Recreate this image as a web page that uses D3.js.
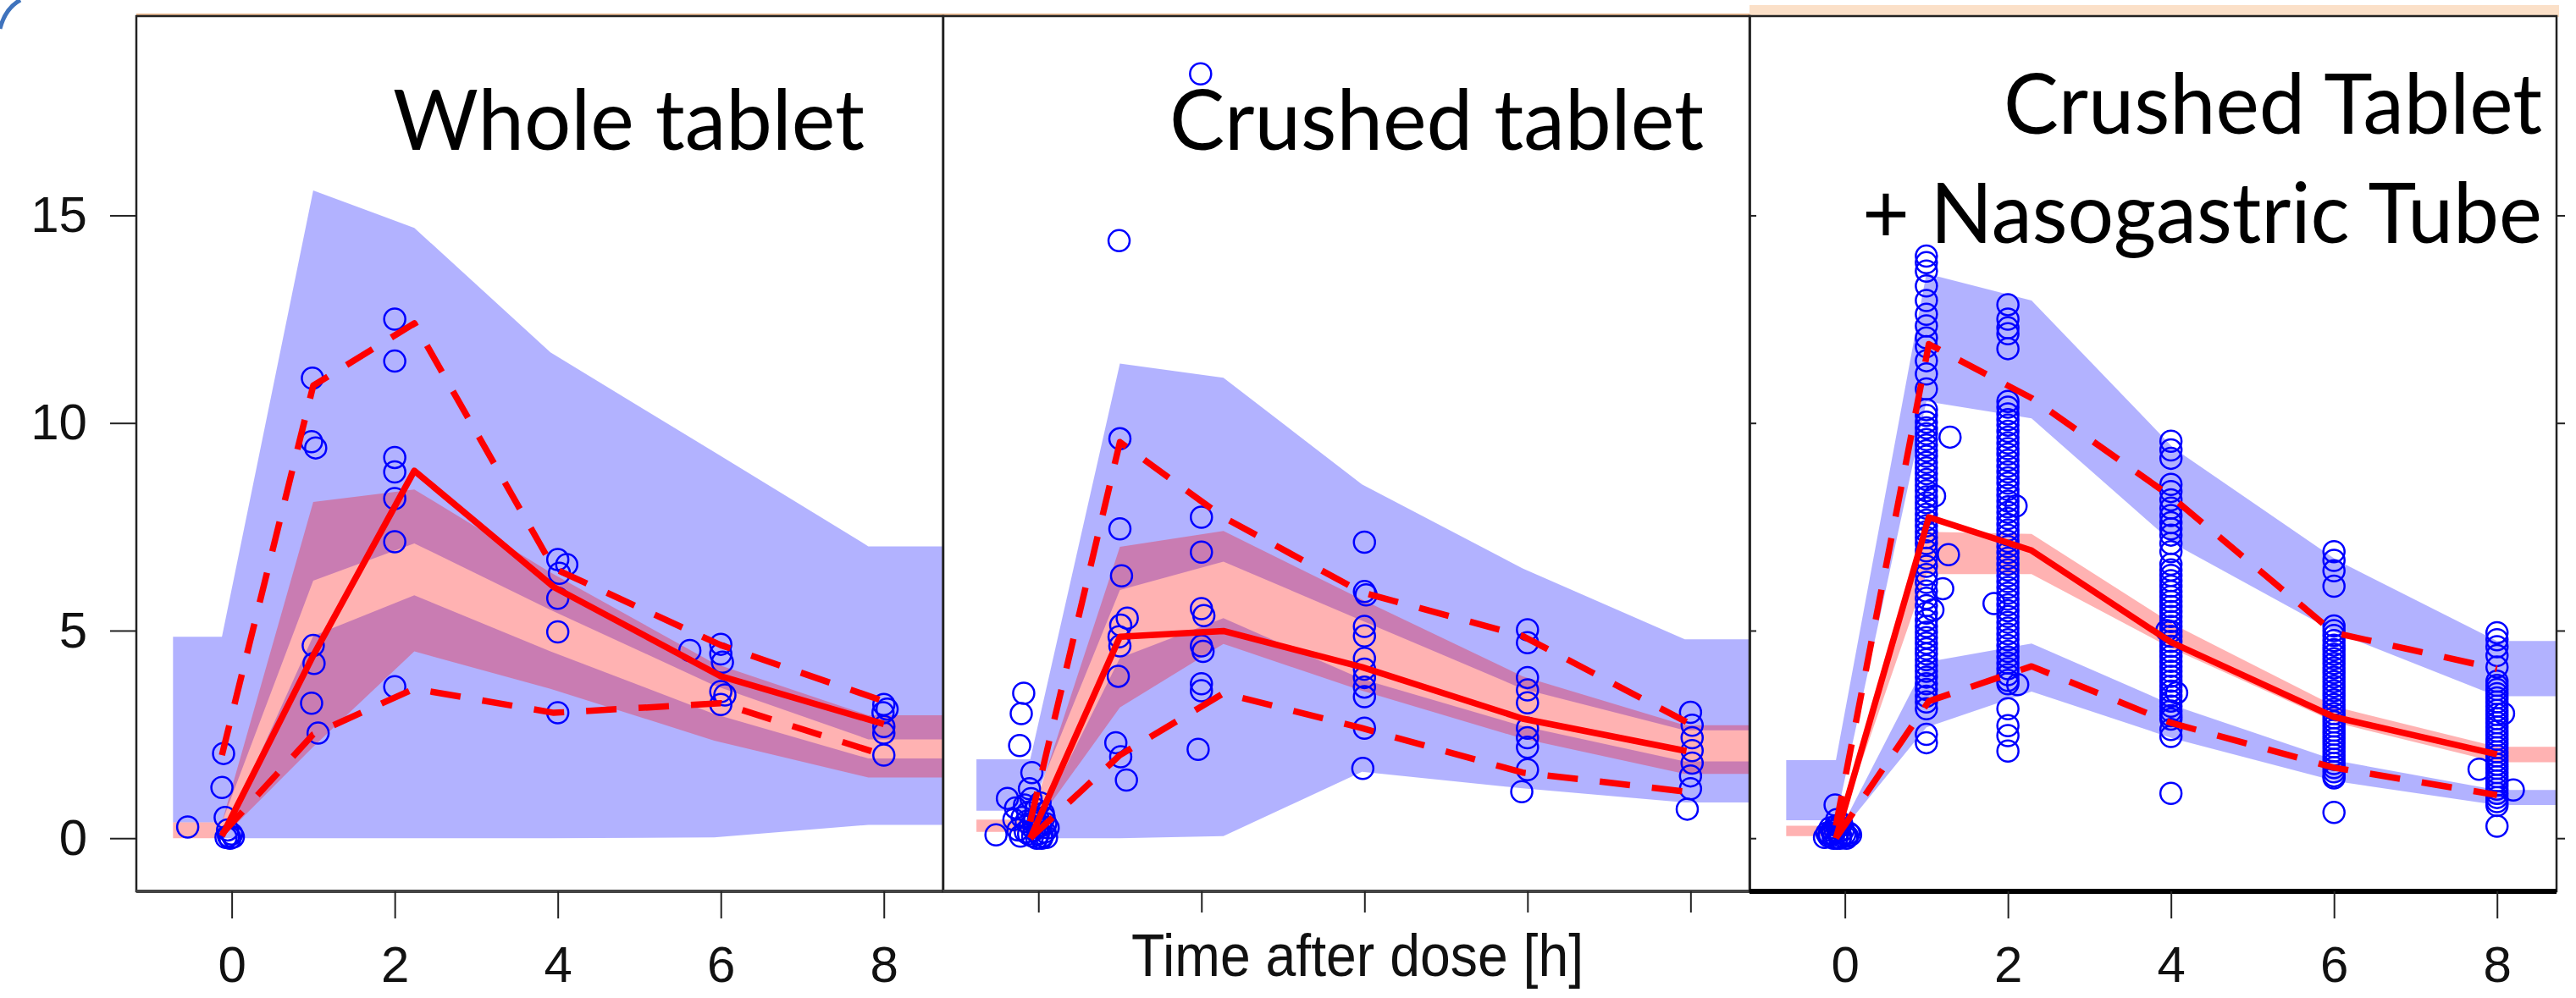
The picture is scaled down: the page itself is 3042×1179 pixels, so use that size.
<!DOCTYPE html>
<html lang="en">
<head>
<meta charset="UTF-8">
<title>VPC: whole vs crushed tablet</title>
<script src="https://d3js.org/d3.v7.min.js"></script>
<style>
  html, body { margin: 0; padding: 0; background: #fff; }
  svg { display: block; }
  .axis text { font-family: "Liberation Sans", Arial, sans-serif; fill: #111; }
  .axis line { stroke: #222; stroke-width: 2px; }
  .title { font-family: Lato, "Open Sans", sans-serif; fill: #000; }
</style>
</head>
<body>
<svg id="chart" width="3042" height="1179"></svg>
<script>
// ---------------- data ----------------
const xTicks = [0, 2, 4, 6, 8];
const yTicks = [0, 5, 10, 15];
const xLabel = "Time after dose [h]";

// panel 1: whole tablet
const binX1   = [-0.12, 1.0, 2.24, 3.91, 5.92, 7.81];
const pi95hi1 = [4.85, 15.6, 14.7, 11.7, 9.3, 7.03];
const pi95lo1 = [0.38, 6.2, 7.1, 5.5, 3.68, 2.38];
const pi50hi1 = [0.38, 8.1, 8.4, 6.4, 4.21, 2.96];
const pi50lo1 = [0.0, 2.2, 4.5, 3.6, 2.35, 1.46];
const pi5hi1  = [0.0, 4.87, 5.85, 4.5, 2.99, 1.92];
const pi5lo1  = [0.0, 0.0, 0.0, 0.0, 0.02, 0.32];
const obsX1   = [-0.12, 1.0, 2.24, 3.95, 6.0, 8.0];
const obs50_1 = [0.05, 4.4, 8.85, 6.05, 3.9, 2.75];
const obs95_1 = [2.0, 10.9, 12.4, 6.5, 4.65, 3.3];
const obs5_1  = [0.1, 2.5, 3.6, 3.02, 3.25, 2.0];
const points1 = [
  [-0.54,0.27],[-0.1,2.04],[-0.12,1.22],[-0.08,0.5],[-0.05,0.2],[-0.04,0.05],[-0.02,0.0],[0.0,0.1],[-0.07,0.02],[0.02,0.03],
  [0.99,11.08],[0.98,9.55],[1.03,9.4],[1.0,4.64],[1.01,4.21],[0.98,3.25],[1.06,2.53],
  [2.0,12.5],[2.0,11.49],[2.0,9.17],[2.0,8.82],[2.0,8.18],[2.0,7.14],[2.0,3.65],
  [4.0,6.71],[4.11,6.59],[4.02,6.38],[4.0,5.78],[4.0,4.97],[4.0,3.02],
  [5.62,4.52],
  [6.0,4.67],[6.0,4.44],[6.02,4.24],[6.0,3.53],[6.05,3.45],[6.0,3.22],
  [8.0,3.22],[8.04,3.11],[7.99,3.02],[8.0,2.69],[8.0,2.53],[8.0,2.0]
];

// panel 2: crushed tablet
const binX2   = [-0.1, 1.0, 2.27, 3.97, 5.94, 7.93];
const pi95hi2 = [1.9, 11.43, 11.09, 8.52, 6.5, 4.79];
const pi95lo2 = [0.66, 5.98, 6.66, 5.24, 3.6, 2.6];
const pi50hi2 = [0.45, 7.02, 7.4, 5.75, 3.9, 2.72];
const pi50lo2 = [0.15, 3.15, 4.68, 3.55, 2.4, 1.55];
const pi5hi2  = [0.0, 4.34, 5.3, 3.83, 2.7, 1.85];
const pi5lo2  = [0.0, 0.0, 0.05, 1.6, 1.2, 0.86];
const obsX2   = [-0.1, 1.0, 2.27, 3.97, 5.94, 7.95];
const obs50_2 = [0.0, 4.85, 4.99, 4.12, 2.88, 2.1];
const obs95_2 = [0.4, 9.54, 7.73, 5.92, 4.87, 2.8];
const obs5_2  = [0.0, 2.0, 3.49, 2.65, 1.58, 1.12];
const points2 = [
  [-0.52,0.08],[-0.18,3.49],[-0.21,3.0],[-0.23,2.23],[-0.38,0.96],[-0.08,1.58],[-0.11,1.19],[-0.28,0.73],
  [-0.15,0.4],[-0.1,0.3],[-0.05,0.2],[0.0,0.1],[0.05,0.05],[0.08,0.15],[-0.12,0.1],[-0.02,0.0],[0.03,0.3],
  [-0.07,0.05],[0.1,0.02],[-0.2,0.5],[0.0,0.45],[0.06,0.6],[-0.03,0.7],[-0.16,0.15],[0.09,0.35],
  [-0.25,0.2],[-0.3,0.45],[-0.13,0.62],[0.02,0.85],[-0.09,0.95],[0.12,0.25],[0.04,0.0],[-0.06,0.38],
  [-0.22,0.05],[0.07,0.5],[-0.01,0.28],[-0.17,0.8],
  [1.99,18.41],[0.99,14.39],
  [1.0,9.62],[1.0,7.45],[1.02,6.32],[1.09,5.3],[1.01,5.13],[0.99,4.85],[1.0,4.63],[0.98,3.9],[0.95,2.3],[1.01,1.96],[1.08,1.4],
  [2.0,7.73],[2.0,6.89],[2.0,5.53],[2.03,5.36],[2.0,4.63],[2.02,4.5],[2.0,3.72],[2.0,3.55],[1.96,2.14],
  [4.0,7.13],[4.0,5.94],[4.02,5.86],[4.0,5.1],[4.0,4.87],[4.0,4.33],[4.0,4.07],[4.0,3.87],[4.0,3.64],[4.0,3.41],[4.0,2.65],[3.98,1.68],
  [6.0,5.02],[6.0,4.71],[6.0,3.87],[6.0,3.57],[6.0,3.26],[6.0,2.65],[6.0,2.42],[6.0,2.19],[6.0,1.65],[5.93,1.12],
  [8.0,3.03],[8.02,2.72],[8.02,2.42],[8.02,2.11],[8.02,1.81],[8.0,1.5],[8.0,1.19],[7.96,0.7]
];

// panel 3: crushed tablet + nasogastric tube
const binX3   = [-0.11, 1.0, 2.29, 4.03, 6.03, 8.0];
const pi95hi3 = [1.88, 13.6, 12.95, 9.4, 6.7, 4.75];
const pi95lo3 = [0.43, 10.52, 10.11, 7.1, 4.95, 3.42];
const pi50hi3 = [0.3, 7.38, 7.33, 5.15, 3.16, 2.2];
const pi50lo3 = [0.05, 6.36, 6.36, 4.55, 2.78, 1.83];
const pi5hi3  = [0.0, 4.24, 4.69, 3.2, 1.87, 1.16];
const pi5lo3  = [0.0, 2.67, 3.53, 2.4, 1.37, 0.8];
const obsX3   = [-0.11, 1.03, 2.29, 4.0, 6.0, 8.0];
const obs50_3 = [0.0, 7.73, 6.93, 4.72, 2.92, 2.02];
const obs95_3 = [0.3, 11.9, 10.6, 8.23, 4.95, 4.08];
const obs5_3  = [0.0, 3.3, 4.14, 2.78, 1.7, 1.04];
const conc3_0h = [0.05,0.1,0.0,0.05,0.1,0.2,0.15,0.25,0.2,0.05,0.3,0.0,0.0,0.12,0.12,0.45,0.8,0.35,0.02,0.18,0.08,0.28,0.0,0.1];
const time3_0h = [-0.2,-0.15,-0.1,-0.05,0.0,-0.12,-0.08,-0.18,-0.02,0.03,-0.1,-0.06,-0.14,0.05,-0.22,-0.1,-0.12,-0.04,
  -0.25,-0.16,0.07,-0.07,0.02,-0.19];
const conc3_1h = [14.02,13.86,13.66,13.3,12.95,12.62,12.34,12.05,11.84,11.5,11.18,10.82,10.32,10.18,10.02,9.88,9.74,9.6,
  9.47,9.33,9.2,9.05,8.92,8.78,8.64,8.5,8.37,8.22,8.08,7.95,7.8,7.66,7.52,7.38,7.24,7.1,6.92,6.74,6.55,6.35,6.16,5.95,
  5.78,5.6,5.42,5.25,5.1,4.96,4.83,4.7,4.56,4.44,4.3,4.16,4.02,3.88,3.72,3.58,3.42,3.28,3.12,2.5,2.3];
const conc3_2h = [12.85,12.5,12.29,12.15,11.79,10.52,10.38,10.22,10.08,9.95,9.8,9.66,9.52,9.38,9.25,9.1,8.96,8.82,8.68,
  8.55,8.4,8.26,8.12,7.98,7.85,7.7,7.56,7.42,7.3,7.15,7.02,6.88,6.74,6.6,6.46,6.32,6.18,6.04,5.9,5.76,5.62,5.48,5.34,
  5.2,5.06,4.92,4.78,4.64,4.5,4.36,4.22,4.08,3.94,3.8,3.72,3.12,2.71,2.47,2.1];
const conc3_4h = [9.56,9.35,9.15,8.52,8.35,8.15,7.95,7.77,7.6,7.45,7.3,7.1,6.9,6.6,6.46,6.33,6.2,6.07,5.94,5.82,5.7,5.58,
  5.46,5.34,5.22,5.1,4.98,4.86,4.74,4.62,4.5,4.38,4.26,4.14,4.02,3.9,3.78,3.66,3.54,3.42,3.3,3.18,3.06,2.95,2.87,2.62,2.45,1.08];
const conc3_6h = [6.9,6.69,6.44,6.07,5.11,5.0,4.88,4.76,4.65,4.54,4.43,4.32,4.21,4.1,3.99,3.88,3.77,3.66,3.55,3.44,3.33,
  3.22,3.11,3.0,2.9,2.8,2.7,2.6,2.5,2.4,2.3,2.2,2.1,2.0,1.9,1.8,1.7,1.6,1.5,1.45,0.62];
const conc3_8h = [4.95,4.78,4.61,4.4,4.12,3.78,3.68,3.58,3.48,3.38,3.28,3.18,3.08,2.98,2.88,2.78,2.68,2.58,2.48,2.38,2.28,
  2.18,2.08,1.98,1.88,1.78,1.68,1.58,1.48,1.38,1.28,1.18,1.08,0.98,0.88,0.79,0.29];
const outliers3 = [[1.29,9.66],[1.27,6.83],[1.2,6.01],[1.1,8.24],[1.08,5.5],[1.83,5.65],[2.12,3.7],[2.1,8.0],
  [3.95,5.0],[4.07,3.5],[7.78,1.66],[8.2,1.16],[8.08,3.0]];

const titles = [["Whole tablet"], ["Crushed tablet"], ["Crushed Tablet", "+ Nasogastric Tube"]];
const bandStartX = [-0.72, -0.76, -0.72];

// ---------------- layout ----------------
const xDomain = [-1.17, 8.73];
const yDomain = [-1.28, 19.8];
const panelLeft = [161, 1113.6, 2066];
const panelW = 953;
const plotTop = 19, plotBottom = 1053;
// title anchor (right edge), baseline and target width
const titleLayout = [
  [{x: 1021, y: 177, w: 557}],
  [{x: 2012, y: 177, w: 631}],
  [{x: 3002, y: 158, w: 636}, {x: 3002, y: 287, w: 803}]
];

// build point table for panel 3
const points3 = [];
conc3_0h.forEach((c, k) => points3.push([time3_0h[k], c]));
[[1, conc3_1h], [2, conc3_2h], [4, conc3_4h], [6, conc3_6h], [8, conc3_8h]].forEach(([t, arr]) => {
  arr.forEach(c => points3.push([t, c]));
});
outliers3.forEach(p => points3.push(p));

const panels = [
  {binX: binX1, pi95hi: pi95hi1, pi95lo: pi95lo1, pi50hi: pi50hi1, pi50lo: pi50lo1, pi5hi: pi5hi1, pi5lo: pi5lo1,
   obsX: obsX1, obs50: obs50_1, obs95: obs95_1, obs5: obs5_1, points: points1},
  {binX: binX2, pi95hi: pi95hi2, pi95lo: pi95lo2, pi50hi: pi50hi2, pi50lo: pi50lo2, pi5hi: pi5hi2, pi5lo: pi5lo2,
   obsX: obsX2, obs50: obs50_2, obs95: obs95_2, obs5: obs5_2, points: points2},
  {binX: binX3, pi95hi: pi95hi3, pi95lo: pi95lo3, pi50hi: pi50hi3, pi50lo: pi50lo3, pi5hi: pi5hi3, pi5lo: pi5lo3,
   obsX: obsX3, obs50: obs50_3, obs95: obs95_3, obs5: obs5_3, points: points3}
];

const svg = d3.select("#chart");
const yScale = d3.scaleLinear().domain(yDomain).range([plotBottom, plotTop]);

// band rows: flat extension left of the first bin and out to the right edge
function bandRows(binX, lo, hi, startX) {
  const rows = binX.map((x, k) => ({x: x, lo: lo[k], hi: hi[k]}));
  rows.unshift({x: startX, lo: lo[0], hi: hi[0]});
  rows.push({x: xDomain[1], lo: lo[lo.length - 1], hi: hi[hi.length - 1]});
  return rows;
}

// faint slide artefacts at the top
svg.append("rect").attr("x", 2066).attr("y", 6).attr("width", 956).attr("height", 14)
  .attr("fill", "#fbe0c8");
svg.append("line").attr("x1", 161).attr("x2", 2066).attr("y1", 17).attr("y2", 17)
  .attr("stroke", "#e9b990").attr("stroke-width", 2);
svg.append("path").attr("d", "M0,34 Q6,10 24,0").attr("fill", "none")
  .attr("stroke", "#3f73bd").attr("stroke-width", 5);

panels.forEach((p, i) => {
  const left = panelLeft[i];
  const xScale = d3.scaleLinear().domain(xDomain).range([left, left + panelW]);
  const g = svg.append("g").attr("class", "panel");

  g.append("clipPath").attr("id", "clip" + i).append("rect")
    .attr("x", left).attr("y", plotTop).attr("width", panelW).attr("height", plotBottom - plotTop);
  const plot = g.append("g").attr("clip-path", "url(#clip" + i + ")");

  // simulated prediction intervals
  const area = d3.area().x(d => xScale(d.x)).y0(d => yScale(d.lo)).y1(d => yScale(d.hi));
  const bands = [
    {lo: p.pi5lo, hi: p.pi5hi, color: "#0000ff"},
    {lo: p.pi95lo, hi: p.pi95hi, color: "#0000ff"},
    {lo: p.pi50lo, hi: p.pi50hi, color: "#ff0000"}
  ];
  plot.selectAll("path.band").data(bands).join("path")
    .attr("class", "band")
    .attr("d", b => area(bandRows(p.binX, b.lo, b.hi, bandStartX[i])))
    .attr("fill", b => b.color)
    .attr("fill-opacity", 0.3);

  // observations
  plot.selectAll("circle.obs").data(p.points).join("circle")
    .attr("class", "obs")
    .attr("cx", d => xScale(d[0]))
    .attr("cy", d => yScale(d[1]))
    .attr("r", 12.5)
    .attr("fill", "none")
    .attr("stroke", "#0000ff")
    .attr("stroke-width", 2.5);

  // observed percentiles
  const line = d3.line().x(d => xScale(d[0])).y(d => yScale(d[1]));
  const obsLines = [
    {vals: p.obs5, dash: "36,26"},
    {vals: p.obs95, dash: "36,26"},
    {vals: p.obs50, dash: null}
  ];
  plot.selectAll("path.obsline").data(obsLines).join("path")
    .attr("class", "obsline")
    .attr("d", l => line(p.obsX.map((x, k) => [x, l.vals[k]])))
    .attr("fill", "none")
    .attr("stroke", "#ff0000")
    .attr("stroke-width", 7.5)
    .attr("stroke-linejoin", "round")
    .attr("stroke-dasharray", l => l.dash);

  // frame
  g.append("rect").attr("x", left).attr("y", plotTop).attr("width", panelW).attr("height", plotBottom - plotTop)
    .attr("fill", "none").attr("stroke", "#222").attr("stroke-width", 2.5);
  g.append("line").attr("x1", left).attr("x2", left + panelW).attr("y1", plotBottom).attr("y2", plotBottom)
    .attr("stroke", i === 2 ? "#000" : "#444").attr("stroke-width", i === 2 ? 6 : 4);

  // x axis
  const xAxis = d3.axisBottom(xScale).tickValues(xTicks)
    .tickSize(i === 1 ? 25 : 32).tickPadding(32)
    .tickFormat(i === 1 ? () => "" : d3.format("d"));
  const ax = g.append("g").attr("class", "axis")
    .attr("transform", "translate(0," + plotBottom + ")")
    .call(xAxis);
  ax.select(".domain").remove();
  ax.selectAll("text").attr("font-size", 60);

  if (i === 1) {
    g.append("text").attr("class", "axis")
      .attr("x", left + panelW / 2 + 13).attr("y", 1153)
      .attr("text-anchor", "middle")
      .attr("font-family", "'Liberation Sans', Arial, sans-serif")
      .attr("font-size", 70)
      .attr("textLength", 534).attr("lengthAdjust", "spacingAndGlyphs")
      .attr("fill", "#111")
      .text(xLabel);
  }

  // y axis on the first panel, small ticks on the third
  if (i === 0) {
    const yAxis = d3.axisLeft(yScale).tickValues(yTicks).tickSize(31).tickPadding(27);
    const ay = g.append("g").attr("class", "axis").attr("transform", "translate(" + left + ",0)").call(yAxis);
    ay.select(".domain").remove();
    ay.selectAll("text").attr("font-size", 60);
  }
  if (i === 2) {
    const ry = g.append("g").attr("class", "axis")
      .attr("transform", "translate(" + (left + panelW) + ",0)")
      .call(d3.axisRight(yScale).tickValues(yTicks).tickSize(10).tickFormat(() => ""));
    ry.select(".domain").remove();
    const ly = g.append("g").attr("class", "axis")
      .attr("transform", "translate(" + left + ",0)")
      .call(d3.axisRight(yScale).tickValues(yTicks).tickSize(8).tickFormat(() => ""));
    ly.select(".domain").remove();
  }

  // panel titles, fitted to the measured width
  titles[i].forEach((t, k) => {
    const lay = titleLayout[i][k];
    g.append("text").attr("class", "title")
      .attr("x", lay.x).attr("y", lay.y)
      .attr("text-anchor", "end")
      .attr("font-size", 98)
      .attr("textLength", lay.w).attr("lengthAdjust", "spacingAndGlyphs")
      .text(t);
  });
});
</script>
</body>
</html>
